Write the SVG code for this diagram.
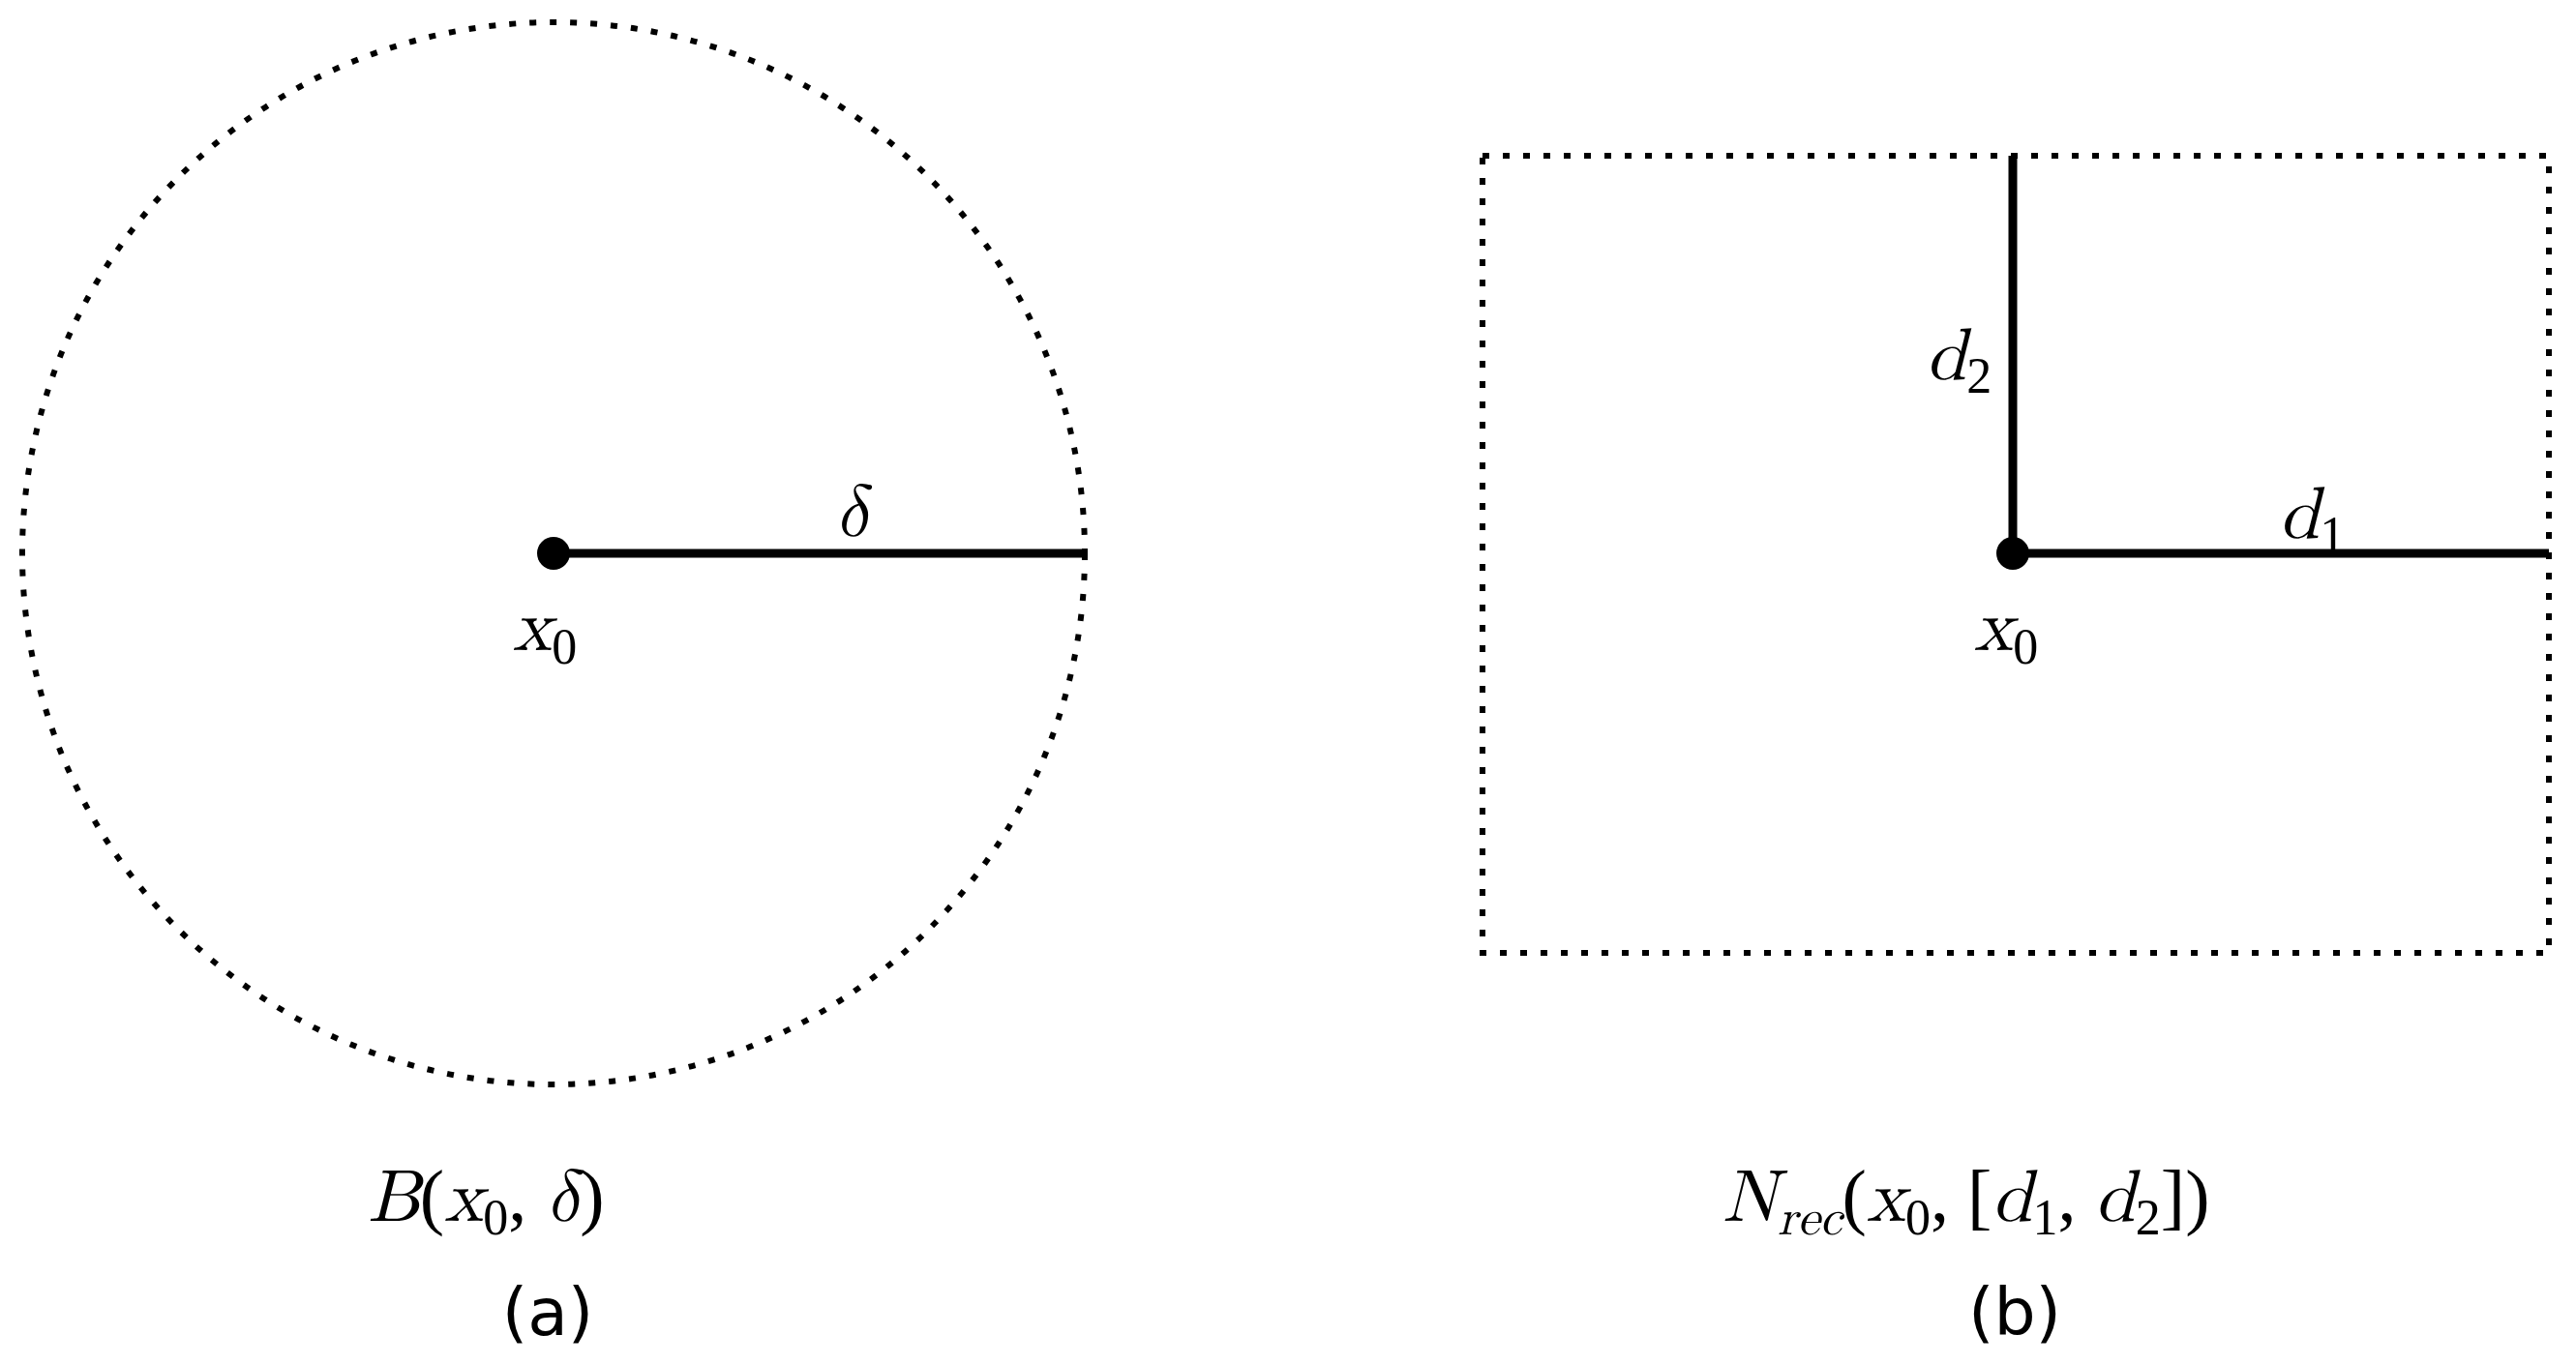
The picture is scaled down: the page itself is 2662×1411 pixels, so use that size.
<svg xmlns="http://www.w3.org/2000/svg" width="2662" height="1411" viewBox="0 0 2662 1411">
<style>
.dot{fill:none;stroke:#000;stroke-width:6;stroke-dasharray:7 14}
.solid{stroke:#000;stroke-width:9}
.m{font-family:"Latin Modern Math","Liberation Serif",serif;font-style:italic;font-size:76px;fill:#000}
.r{font-family:"Liberation Serif",serif;font-style:normal}
.s{font-size:52px}
.cap{font-family:"DejaVu Sans",sans-serif;font-size:68px;fill:#000}
</style>
<rect width="2662" height="1411" fill="#fff"/>
<g id="ball">
<circle class="dot" cx="572" cy="572" r="549"/>
</g>
<g id="rect">
<rect class="dot" x="1532" y="161" width="1102" height="824"/>
</g>
<g id="connectors">
<line class="solid" x1="572" y1="572" x2="1121" y2="572"/>
<line class="solid" x1="2080" y1="572" x2="2634" y2="572"/>
<line class="solid" x1="2080" y1="161" x2="2080" y2="572"/>
</g>
<g id="points">
<circle cx="572" cy="572" r="17"/>
<circle cx="2080" cy="572" r="17"/>
</g>
<g id="labels">
<text class="m" x="862" y="554">δ</text>
<text class="m" x="530" y="672">x<tspan class="r s" dy="14">0</tspan></text>
<text class="m" x="1990" y="392">d<tspan class="r s" dy="14">2</tspan></text>
<text class="m" x="2355" y="556">d<tspan class="r s" dy="14">1</tspan></text>
<text class="m" x="2040" y="672">x<tspan class="r s" dy="14">0</tspan></text>
<text class="m" x="380" y="1262">B<tspan class="r">(</tspan>x<tspan class="r s" dy="14">0</tspan><tspan class="r" dy="-14">, </tspan>δ<tspan class="r">)</tspan></text>
<text class="m" x="1780" y="1262">N<tspan class="s" dy="14">rec</tspan><tspan class="r" dy="-14">(</tspan>x<tspan class="r s" dy="14">0</tspan><tspan class="r" dy="-14">, [</tspan>d<tspan class="r s" dy="14">1</tspan><tspan class="r" dy="-14">, </tspan>d<tspan class="r s" dy="14">2</tspan><tspan class="r" dy="-14">])</tspan></text>
<text class="cap" x="566" y="1380" text-anchor="middle">(a)</text>
<text class="cap" x="2082" y="1380" text-anchor="middle">(b)</text>
</g>
</svg>
